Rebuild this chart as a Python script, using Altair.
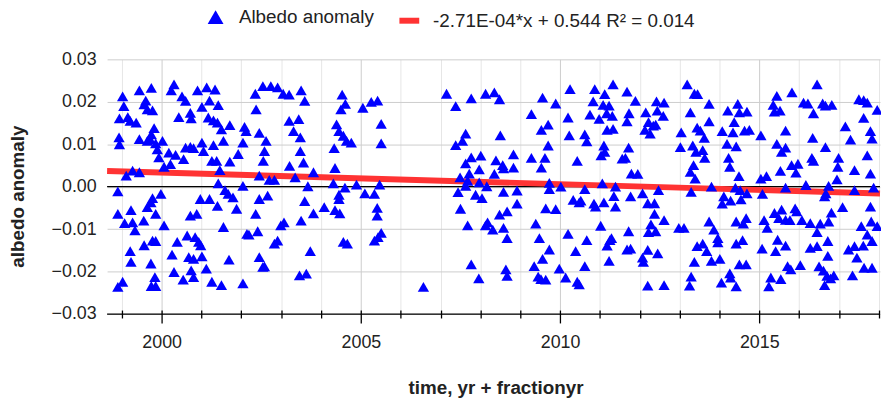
import altair as alt
import pandas as pd

# ---- data (time in years, albedo anomaly) ----
pts_1998_2003 = [
    (1999.02, 0.0213), (1999.05, 0.0190), (1999.44, 0.0227), (1999.74, 0.0233), (1999.60, 0.0203),
    (1999.56, 0.0194), (1999.64, 0.0182), (1999.77, 0.0180), (2000.31, 0.0241), (2000.24, 0.0227),
    (2000.51, 0.0213), (2000.60, 0.0202), (2000.90, 0.0227), (2001.13, 0.0234), (2001.34, 0.0229),
    (2001.20, 0.0203), (2001.01, 0.0188), (2001.42, 0.0192), (2002.35, 0.0219), (2002.54, 0.0237),
    (2002.74, 0.0237), (2002.91, 0.0234), (2003.05, 0.0219), (2003.20, 0.0217), (2002.37, 0.0182),
    (1998.94, 0.0161), (1999.15, 0.0164), (1999.21, 0.0155), (1999.36, 0.0151), (2000.43, 0.0164),
    (2000.72, 0.0174), (2000.74, 0.0161), (2001.17, 0.0163), (2001.30, 0.0156), (2001.40, 0.0151),
    (2001.50, 0.0135), (2001.71, 0.0145), (2002.08, 0.0141), (2002.12, 0.0131), (2002.45, 0.0127),
    (2003.20, 0.0155),
    (1998.93, 0.0116), (1998.94, 0.0100), (1999.44, 0.0112), (1999.81, 0.0138), (1999.74, 0.0123),
    (1999.64, 0.0108), (1999.71, 0.0112), (1999.85, 0.0102), (2000.02, 0.0108), (1999.89, 0.0088),
    (1999.93, 0.0069), (2000.18, 0.0080), (2000.35, 0.0075), (2000.60, 0.0092), (2000.72, 0.0094),
    (2000.80, 0.0091), (2001.01, 0.0104), (2001.05, 0.0084), (2001.30, 0.0098), (2001.55, 0.0108),
    (2002.04, 0.0104), (2001.92, 0.0077), (2002.62, 0.0108), (2002.58, 0.0084), (2002.55, 0.0061),
    (2003.21, 0.0049),
    (2000.06, 0.0047), (2000.22, 0.0053), (2000.55, 0.0065), (2001.26, 0.0061), (2001.38, 0.0061),
    (2001.71, 0.0059), (1999.11, 0.0026), (1999.27, 0.0038), (1999.44, 0.0034), (2001.46, 0.0039),
    (2002.45, 0.0026), (2002.70, 0.0016), (2002.83, 0.0016),
    (1998.90, -0.0011), (2001.42, 0.0008), (2001.59, -0.0008), (2001.67, -0.0017), (2001.79, -0.0025),
    (2002.04, 0.0002), (1999.98, -0.0017), (1999.77, -0.0027), (1999.73, -0.0037), (1999.64, -0.0048),
    (2000.97, -0.0029), (2001.20, -0.0029), (2001.40, -0.0045), (2001.88, -0.0052), (2002.45, -0.0029),
    (2002.66, -0.0021),
    (1998.90, -0.0064), (1999.07, -0.0086), (1999.27, -0.0084), (1999.23, -0.0055), (1999.55, -0.0080),
    (1999.33, -0.0103), (1999.85, -0.0064), (2000.06, -0.0091), (2000.72, -0.0068), (2000.88, -0.0064),
    (2001.55, -0.0095), (2002.36, -0.0064), (2003.07, -0.0084), (2002.99, -0.0091),
    (1999.21, -0.0152), (1999.56, -0.0138), (1999.77, -0.0127), (1999.85, -0.0128), (2000.39, -0.0130),
    (2000.64, -0.0115), (2000.84, -0.0119), (2000.93, -0.0130), (2000.98, -0.0138), (2000.26, -0.0160),
    (2000.68, -0.0166), (2000.80, -0.0170), (2001.01, -0.0164), (2002.14, -0.0111), (2002.19, -0.0113),
    (2002.41, -0.0105), (2002.83, -0.0134), (2002.91, -0.0127),
    (1999.23, -0.0177), (1999.73, -0.0181), (1999.83, -0.0213), (2000.31, -0.0201), (2000.74, -0.0197),
    (2000.80, -0.0213), (2000.54, -0.0219), (2001.12, -0.0193), (2001.69, -0.0172), (2002.45, -0.0166),
    (2002.54, -0.0189), (2002.58, -0.0188),
    (1998.90, -0.0236), (1999.02, -0.0224), (1999.74, -0.0234), (1999.85, -0.0234), (2001.26, -0.0224),
    (2001.50, -0.0232), (2002.04, -0.0228),
]

pts_2003_2008 = [
    (2003.50, 0.0227), (2003.59, 0.0202), (2003.44, 0.0159), (2003.31, 0.0131), (2003.48, 0.0116),
    (2003.48, 0.0084), (2003.56, 0.0057), (2003.81, 0.0034), (2003.35, 0.0022), (2003.67, 0.0001),
    (2003.59, -0.0034), (2003.81, -0.0063), (2003.50, -0.0080), (2003.73, -0.0152), (2003.46, -0.0209),
    (2003.63, -0.0205),
    (2004.53, 0.0217), (2004.61, 0.0195), (2004.50, 0.0182), (2004.39, 0.0147), (2004.45, 0.0131),
    (2004.56, 0.0120), (2004.64, 0.0108), (2004.76, 0.0104), (2004.33, 0.0091), (2004.35, 0.0044),
    (2004.31, 0.0008), (2004.60, -0.0002), (2004.89, 0.0005), (2004.45, -0.0019), (2004.45, -0.0029),
    (2004.08, -0.0048), (2004.35, -0.0055), (2004.47, -0.0063), (2004.56, -0.0130), (2004.66, -0.0134),
    (2005.05, 0.0186), (2005.26, 0.0200), (2005.42, 0.0203), (2005.51, 0.0148), (2005.51, 0.0102),
    (2005.47, 0.0005), (2005.10, -0.0016), (2005.34, -0.0017), (2005.41, -0.0050), (2005.41, -0.0068),
    (2005.51, -0.0109), (2005.43, -0.0119), (2005.34, -0.0127),
    (2006.57, -0.0236),
    (2007.15, 0.0219), (2007.38, 0.0190), (2007.77, 0.0208), (2008.13, 0.0219), (2007.63, 0.0125),
    (2007.55, 0.0108), (2007.38, 0.0098), (2007.77, 0.0069), (2008.01, 0.0073), (2007.63, 0.0055),
    (2007.97, 0.0041), (2007.72, 0.0031), (2007.49, 0.0022), (2007.68, 0.0014), (2007.63, 0.0002),
    (2007.97, 0.0010), (2007.44, -0.0013), (2007.88, -0.0019), (2008.04, -0.0027), (2007.50, -0.0052),
    (2007.68, -0.0091), (2008.13, -0.0091), (2007.77, -0.0183), (2007.96, -0.0216),
]

pts_2008_2011 = [
    (2008.35, 0.0222), (2008.48, 0.0206), (2008.50, 0.0121), (2008.39, 0.0062), (2008.56, 0.0051),
    (2008.58, 0.0043), (2008.83, 0.0076), (2008.83, 0.0045), (2008.35, 0.0030), (2008.16, 0.0001),
    (2008.58, -0.0012), (2008.92, -0.0009), (2008.92, -0.0040), (2008.67, -0.0058), (2008.48, -0.0066),
    (2008.18, -0.0084), (2008.31, -0.0101), (2008.58, -0.0097), (2008.67, -0.0121), (2008.64, -0.0195),
    (2008.67, -0.0210),
    (2009.28, 0.0171), (2009.56, 0.0210), (2009.89, 0.0196), (2009.70, 0.0146), (2009.53, 0.0134),
    (2009.70, 0.0097), (2009.28, 0.0068), (2009.62, 0.0068), (2009.53, 0.0045), (2009.73, 0.0009),
    (2009.73, -0.0006), (2010.02, 0.0000), (2009.64, -0.0051), (2009.89, -0.0053), (2009.39, -0.0087),
    (2009.48, -0.0121), (2009.73, -0.0148), (2009.56, -0.0170), (2009.35, -0.0187), (2009.45, -0.0212),
    (2009.52, -0.0218), (2009.64, -0.0219), (2009.98, -0.0193), (2010.14, -0.0214),
    (2010.25, 0.0230), (2010.20, 0.0163), (2010.23, 0.0121), (2010.43, 0.0061), (2010.62, 0.0123),
    (2010.67, 0.0107), (2010.62, -0.0006), (2010.33, -0.0031), (2010.48, -0.0037), (2010.52, -0.0033),
    (2010.85, -0.0040), (2010.89, -0.0047), (2010.20, -0.0111), (2010.67, -0.0126), (2010.39, -0.0152),
    (2010.62, -0.0187), (2010.43, -0.0224), (2010.48, -0.0230),
    (2010.87, 0.0230), (2011.12, 0.0218), (2011.33, 0.0241), (2010.83, 0.0201), (2011.08, 0.0193),
    (2011.23, 0.0191), (2010.75, 0.0170), (2010.98, 0.0160), (2011.17, 0.0173), (2011.31, 0.0167),
    (2011.18, 0.0134), (2011.33, 0.0136), (2011.10, 0.0097), (2011.03, 0.0074), (2011.12, 0.0082),
    (2011.06, 0.0008), (2011.39, 0.0000), (2011.35, -0.0022), (2011.39, -0.0047), (2011.10, -0.0037),
    (2011.02, -0.0092), (2011.25, -0.0126), (2011.29, -0.0121), (2011.18, -0.0139), (2011.23, -0.0175),
]

pts_2011_2015 = [
    (2011.56, 0.0066), (2011.68, 0.0224), (2011.89, 0.0202), (2011.73, 0.0173), (2011.68, 0.0154),
    (2011.72, 0.0092), (2011.64, 0.0068), (2011.79, 0.0031), (2011.95, 0.0030), (2011.77, -0.0023),
    (2012.07, -0.0016), (2012.47, -0.0008), (2012.20, -0.0039), (2012.37, -0.0039), (2012.37, -0.0064),
    (2012.61, -0.0079), (2012.28, -0.0089), (2012.22, -0.0107), (2012.40, -0.0105), (2011.72, -0.0105),
    (2011.68, -0.0148), (2011.77, -0.0146), (2012.20, -0.0149), (2012.45, -0.0157), (2012.07, -0.0167),
    (2012.09, -0.0177), (2012.20, -0.0233), (2012.61, -0.0232),
    (2012.15, 0.0175), (2012.22, 0.0152), (2012.13, 0.0134), (2012.26, 0.0125), (2012.34, 0.0144),
    (2012.42, 0.0201), (2012.61, 0.0198), (2012.44, 0.0179), (2012.59, 0.0167), (2012.40, 0.0146),
    (2013.19, 0.0241), (2013.37, 0.0219), (2013.45, 0.0218), (2013.74, 0.0195), (2013.27, 0.0175),
    (2013.04, 0.0128), (2013.02, 0.0093), (2013.44, 0.0139), (2013.52, 0.0132), (2013.62, 0.0115),
    (2013.74, 0.0154), (2013.33, 0.0097), (2013.41, 0.0082), (2013.58, 0.0086), (2013.63, 0.0068),
    (2013.35, 0.0051), (2013.27, 0.0035), (2013.39, 0.0019), (2013.29, -0.0012), (2013.80, 0.0000),
    (2012.98, -0.0097), (2013.11, -0.0097), (2013.74, -0.0082), (2013.86, -0.0101), (2013.96, -0.0121),
    (2013.96, -0.0131), (2013.44, -0.0140), (2013.58, -0.0134), (2013.68, -0.0152), (2013.37, -0.0177),
    (2013.80, -0.0175), (2014.01, -0.0170), (2013.29, -0.0212), (2013.25, -0.0233), (2014.05, -0.0226),
    (2014.26, -0.0204), (2014.28, -0.0214), (2014.42, -0.0235),
    (2014.46, 0.0195), (2014.21, 0.0179), (2014.50, 0.0175), (2014.69, 0.0177), (2014.37, 0.0152),
    (2014.07, 0.0131), (2014.34, 0.0128), (2014.63, 0.0132), (2014.75, 0.0134), (2014.19, 0.0101),
    (2014.42, 0.0095), (2014.23, 0.0068), (2014.26, 0.0047), (2014.49, 0.0025), (2014.40, -0.0002),
    (2014.52, -0.0008), (2014.69, -0.0016), (2014.11, -0.0023), (2014.07, -0.0040), (2014.28, -0.0033),
    (2014.54, -0.0030), (2014.42, -0.0082), (2014.60, -0.0087), (2014.67, -0.0074), (2014.42, -0.0134),
    (2014.58, -0.0126), (2014.50, -0.0183), (2014.67, -0.0183),
]

pts_2015_2018 = [
    (2015.08, -0.0017), (2015.04, 0.0019), (2015.18, 0.0025), (2015.04, 0.0121), (2015.12, -0.0079),
    (2015.20, -0.0097), (2015.07, -0.0146), (2015.44, 0.0214), (2015.35, 0.0193), (2015.38, 0.0177),
    (2015.52, 0.0179), (2015.82, 0.0222), (2015.66, 0.0132), (2015.44, 0.0101), (2015.66, 0.0092),
    (2015.56, 0.0082), (2015.81, 0.0051), (2015.97, 0.0054), (2015.53, 0.0037), (2015.92, 0.0033),
    (2015.66, -0.0002), (2016.17, 0.0004), (2015.38, -0.0062), (2015.56, -0.0054), (2015.49, -0.0074),
    (2015.66, -0.0078), (2015.77, -0.0079), (2015.90, -0.0051), (2015.94, -0.0058), (2015.46, -0.0125),
    (2015.41, -0.0152), (2015.66, -0.0139), (2015.71, -0.0187), (2015.79, -0.0195), (2016.03, -0.0185),
    (2015.29, -0.0214), (2015.54, -0.0218), (2015.24, -0.0235),
    (2016.45, 0.0241), (2016.11, 0.0198), (2016.22, 0.0196), (2016.36, 0.0173), (2016.59, 0.0196),
    (2016.66, 0.0191), (2016.82, 0.0193), (2016.34, 0.0115), (2016.66, 0.0093), (2016.32, 0.0068),
    (2016.36, 0.0061), (2016.07, -0.0079), (2016.28, -0.0086), (2016.53, -0.0087), (2016.74, -0.0082),
    (2016.81, -0.0061), (2016.45, -0.0107), (2016.28, -0.0144), (2016.45, -0.0140), (2016.72, -0.0128),
    (2016.72, -0.0163), (2016.50, -0.0188), (2016.61, -0.0198), (2016.70, -0.0210), (2016.87, -0.0209),
    (2016.79, -0.0216), (2016.64, -0.0232), (2016.64, -0.0023), (2016.67, -0.0016), (2016.74, 0.0002),
    (2016.95, 0.0017), (2016.99, 0.0068), (2016.97, 0.0047),
    (2017.09, -0.0048), (2017.39, -0.0008), (2017.39, 0.0039), (2017.16, 0.0142), (2017.29, 0.0111),
    (2017.50, 0.0206), (2017.62, 0.0204), (2017.71, 0.0198), (2017.96, 0.0181), (2017.62, 0.0162),
    (2017.79, 0.0131), (2017.83, 0.0113), (2017.71, 0.0074), (2017.79, 0.0031), (2017.87, -0.0002),
    (2017.79, -0.0047), (2017.56, -0.0093), (2017.81, -0.0082), (2017.96, -0.0093), (2017.71, -0.0113),
    (2017.83, -0.0128), (2017.61, -0.0139), (2017.39, -0.0140), (2017.24, -0.0148), (2017.45, -0.0167),
    (2017.63, -0.0191), (2017.83, -0.0191), (2017.34, -0.0209),
]

trend_time = [1998.63, 2018.03]
trend_value = [0.0037, -0.0016]

x_domain = [1998.63, 2018.03]
y_domain = [-0.03, 0.03]
x_ticks = list(range(1999, 2019))
y_ticks = [-0.03, -0.02, -0.01, 0.0, 0.01, 0.02, 0.03]
baseline_values = [-0.03, 0.0]

series_label = "Albedo anomaly"
trend_label = "-2.71E-04*x + 0.544 R\u00b2 = 0.014"

# ---- tables ----
all_pts = pts_1998_2003 + pts_2003_2008 + pts_2008_2011 + pts_2011_2015 + pts_2015_2018
points = pd.DataFrame(all_pts, columns=["time", "albedo"])
points["series"] = series_label
trend = pd.DataFrame({"time": trend_time, "albedo": trend_value})
trend["series"] = trend_label
baselines = pd.DataFrame({"albedo": baseline_values})

FONT = "Liberation Sans"
TXT = "#222222"

xscale = alt.Scale(domain=x_domain, nice=False, zero=False)
yscale = alt.Scale(domain=y_domain, nice=False, zero=False)

x_axis = alt.Axis(
    title="time, yr + fractionyr",
    values=x_ticks,
    format="d",
    labelExpr="datum.value % 5 === 0 ? datum.label : ''",
    labelOverlap=False,
    offset=-4,
    domain=False,
    ticks=True,
    tickColor="black",
    tickWidth=1.3,
    tickSize=alt.condition("datum.value % 5 === 0", alt.value(13), alt.value(8)),
    grid=True,
    gridColor=alt.condition("datum.value % 5 === 0", alt.value("#cccccc"), alt.value("#e6e6e6")),
    gridWidth=1,
    labelFont=FONT,
    labelFontSize=18,
    labelColor=TXT,
    labelPadding=11,
    labelBaseline="top",
    titleFont=FONT,
    titleFontSize=19,
    titleFontWeight="bold",
    titleColor=TXT,
    titleX=392,
    titleY=78,
    titleAlign="center",
    titleBaseline="middle",
)

y_axis = alt.Axis(
    title="albedo anomaly",
    values=y_ticks,
    format=".2f",
    domain=False,
    ticks=False,
    grid=True,
    gridColor="#cccccc",
    gridWidth=1,
    labelFont=FONT,
    labelFontSize=18,
    labelColor=TXT,
    labelPadding=11,
    titleFont=FONT,
    titleFontSize=19,
    titleFontWeight="bold",
    titleColor=TXT,
    titleAngle=270,
    titleX=-90,
    titleY=138,
    titleAlign="center",
    titleBaseline="middle",
)

base_rules = alt.Chart(baselines).mark_rule(color="black", strokeWidth=1.3).encode(
    y=alt.Y("albedo:Q", scale=yscale, axis=y_axis)
)

trend_line = alt.Chart(trend).mark_line(strokeWidth=6, strokeCap="butt").encode(
    x=alt.X("time:Q", scale=xscale, axis=x_axis),
    y=alt.Y("albedo:Q", scale=yscale, axis=y_axis),
    color=alt.Color(
        "series:N",
        scale=alt.Scale(domain=[trend_label], range=["#ff3333"]),
        legend=alt.Legend(
            title=None,
            orient="none",
            legendX=292,
            legendY=-52,
            symbolType="stroke",
            symbolSize=400,
            symbolStrokeWidth=6,
            labelOffset=11,
            labelLimit=600,
            labelFont=FONT,
            labelFontSize=19,
            labelColor=TXT,
        ),
    ),
)

scatter = alt.Chart(points).mark_point(
    shape="triangle-up", filled=True, size=130, color="#0000ff", opacity=1, strokeWidth=0
).encode(
    x=alt.X("time:Q", scale=xscale, axis=x_axis),
    y=alt.Y("albedo:Q", scale=yscale, axis=y_axis),
    shape=alt.Shape(
        "series:N",
        scale=alt.Scale(domain=[series_label], range=["triangle-up"]),
        legend=alt.Legend(
            title=None,
            orient="none",
            legendX=100,
            legendY=-52,
            symbolSize=256,
            symbolFillColor="#0000ff",
            symbolStrokeWidth=0,
            labelOffset=14,
            labelLimit=600,
            labelFont=FONT,
            labelFontSize=19,
            labelColor=TXT,
        ),
    ),
)

chart = (
    alt.layer(base_rules, trend_line, scatter)
    .resolve_legend(color="independent", shape="independent")
    .properties(
        width=780,
        height=257,
        autosize=alt.AutoSizeParams(type="none"),
        padding={"left": 100, "top": 50, "right": 1, "bottom": 91},
        background="white",
    )
    .configure_view(stroke=None)
)

chart.save("out.html", embed_options={"renderer": "svg", "actions": False})
